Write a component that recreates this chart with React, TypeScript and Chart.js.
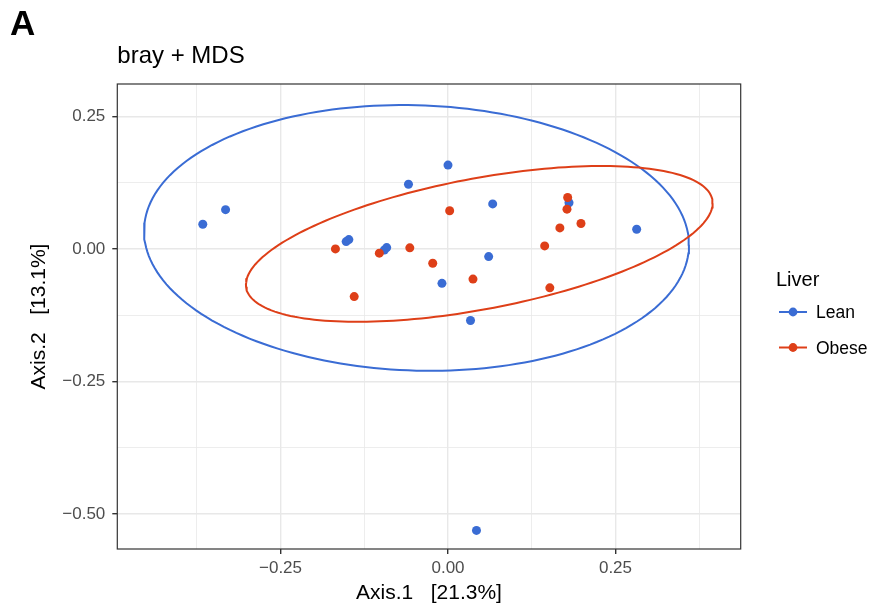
import React, { useEffect, useRef } from "react";
import { Chart, registerables } from "chart.js";

Chart.register(...registerables);

// Lean samples (Axis.1, Axis.2)
const leanX = [-0.366, -0.332, -0.152, -0.148, -0.095, -0.0915, -0.059, 0.0, 0.0667, 0.1806, 0.2816, 0.0607, -0.009, 0.0336, 0.0425];
const leanY = [0.0465, 0.074, 0.0138, 0.0176, -0.002, 0.0025, 0.122, 0.158, 0.0848, 0.087, 0.037, -0.0145, -0.065, -0.135, -0.531];

// Obese samples
const obeseX = [-0.168, -0.1025, -0.057, -0.14, 0.0025, 0.1786, 0.1776, 0.1985, 0.167, 0.1443, -0.0228, 0.0373, 0.152];
const obeseY = [0.0, -0.008, 0.002, -0.09, 0.072, 0.097, 0.075, 0.048, 0.0396, 0.0057, -0.027, -0.057, -0.0735];

// 95% ellipses: centre, cos-vector, sin-vector (data units)
const leanEllipseCenter = [-0.047, 0.0207];
const leanEllipseU = [0.4067, -0.013];
const leanEllipseV = [0.0, 0.2503];
const obeseEllipseCenter = [0.0467, 0.0094];
const obeseEllipseU = [0.3483, 0.0768];
const obeseEllipseV = [0.0, 0.1253];

const groups = ["Lean", "Obese"];
const xRange = [-0.4936, 0.4369];
const yRange = [-0.566, 0.311];
const tickStep = 0.125;

const BLUE = "#3a6cd4";
const RED = "#de3f18";
const FONT = "'Liberation Sans', Arial, Helvetica, sans-serif";

function ellipsePts(c: number[], u: number[], v: number[]) {
  const pts: { x: number; y: number }[] = [];
  const n = 200;
  for (let i = 0; i <= n; i++) {
    const t = (i / n) * Math.PI * 2;
    pts.push({ x: c[0] + u[0] * Math.cos(t) + v[0] * Math.sin(t), y: c[1] + u[1] * Math.cos(t) + v[1] * Math.sin(t) });
  }
  return pts;
}

const isMajor = (v: number) => Math.abs(v / 0.25 - Math.round(v / 0.25)) < 1e-6;
const fmt = (v: number) => {
  const s = Math.abs(v).toFixed(2);
  return v < -1e-9 ? "\u2212" + s : s;
};

const decorPlugin = {
  id: "decor",
  afterDraw(chart: any) {
    const ctx = chart.ctx;
    const a = chart.chartArea;
    ctx.save();
    // panel border
    ctx.strokeStyle = "#333333";
    ctx.lineWidth = 1.2;
    ctx.strokeRect(a.left, a.top, a.right - a.left, a.bottom - a.top);
    // Panel tag
    ctx.fillStyle = "#000";
    ctx.textAlign = "left";
    ctx.textBaseline = "alphabetic";
    ctx.font = `bold 35px ${FONT}`;
    ctx.fillText("A", 10, 35);
    // title
    ctx.font = `24px ${FONT}`;
    ctx.fillText("bray + MDS", a.left, 63);
    // x title
    ctx.font = `21px ${FONT}`;
    ctx.textAlign = "center";
    ctx.fillText("Axis.1   [21.3%]", (a.left + a.right) / 2, 599);
    // y title
    ctx.save();
    ctx.translate(45, (a.top + a.bottom) / 2);
    ctx.rotate(-Math.PI / 2);
    ctx.fillText("Axis.2   [13.1%]", 0, 0);
    ctx.restore();
    // legend
    ctx.textAlign = "left";
    ctx.font = `20px ${FONT}`;
    ctx.fillText("Liver", 776, 286);
    const cols = [BLUE, RED];
    const ys = [312, 347.5];
    ctx.font = `17.5px ${FONT}`;
    groups.forEach((g, i) => {
      ctx.strokeStyle = cols[i];
      ctx.lineWidth = 2;
      ctx.beginPath();
      ctx.moveTo(779, ys[i]);
      ctx.lineTo(807, ys[i]);
      ctx.stroke();
      ctx.fillStyle = cols[i];
      ctx.beginPath();
      ctx.arc(793, ys[i], 4.4, 0, Math.PI * 2);
      ctx.fill();
      ctx.fillStyle = "#000";
      ctx.fillText(g, 816, ys[i] + 6);
    });
    ctx.restore();
  },
};

export default function App() {
  const ref = useRef<HTMLCanvasElement | null>(null);
  useEffect(() => {
    if (!ref.current) return;
    const lean = leanX.map((x, i) => ({ x, y: leanY[i] }));
    const obese = obeseX.map((x, i) => ({ x, y: obeseY[i] }));
    const gridCfg = {
      color: "#e8e8e8",
      lineWidth: (c: any) => (c.tick && isMajor(c.tick.value) ? 1.4 : 0.8),
      tickColor: (c: any) => (c.tick && isMajor(c.tick.value) ? "#333333" : "rgba(0,0,0,0)"),
      tickLength: 5,
      drawTicks: true,
    };
    const chart = new Chart(ref.current, {
      type: "scatter",
      data: {
        datasets: [
          { label: "Obese", data: obese, backgroundColor: RED, borderColor: RED, pointRadius: 4.5, pointBorderWidth: 0 },
          { label: "Lean", data: lean, backgroundColor: BLUE, borderColor: BLUE, pointRadius: 4.5, pointBorderWidth: 0 },
          { label: "ObeseEllipse", data: ellipsePts(obeseEllipseCenter, obeseEllipseU, obeseEllipseV), showLine: true, pointRadius: 0, borderColor: RED, borderWidth: 2, fill: false },
          { label: "LeanEllipse", data: ellipsePts(leanEllipseCenter, leanEllipseU, leanEllipseV), showLine: true, pointRadius: 0, borderColor: BLUE, borderWidth: 2, fill: false },
        ],
      },
      options: {
        animation: false,
        responsive: false,
        events: [],
        layout: { padding: { left: 0, top: 84, right: 130.3, bottom: 0 } },
        plugins: { legend: { display: false }, tooltip: { enabled: false }, title: { display: false } },
        scales: {
          x: {
            type: "linear",
            min: xRange[0],
            max: xRange[1],
            grid: gridCfg as any,
            border: { display: false },
            ticks: {
              stepSize: tickStep,
              includeBounds: false,
              autoSkip: false,
              maxRotation: 0,
              padding: 4,
              color: "#4d4d4d",
              font: { family: FONT, size: 17 },
              callback: (v: any) => (isMajor(Number(v)) ? fmt(Number(v)) : ""),
            },
            afterFit: (s: any) => {
              s.height = 64;
            },
          },
          y: {
            type: "linear",
            min: yRange[0],
            max: yRange[1],
            grid: gridCfg as any,
            border: { display: false },
            ticks: {
              stepSize: tickStep,
              includeBounds: false,
              autoSkip: false,
              padding: 7,
              color: "#4d4d4d",
              font: { family: FONT, size: 17 },
              callback: (v: any) => (isMajor(Number(v)) ? fmt(Number(v)) : ""),
            },
            afterFit: (s: any) => {
              s.width = 117.3;
            },
          },
        },
      },
      plugins: [decorPlugin],
    });
    return () => chart.destroy();
  }, []);
  return (
    <div style={{ position: "absolute", left: 0, top: 0, width: 871, height: 613, background: "#fff" }}>
      <canvas ref={ref} width={871} height={613} style={{ display: "block" }} />
    </div>
  );
}
